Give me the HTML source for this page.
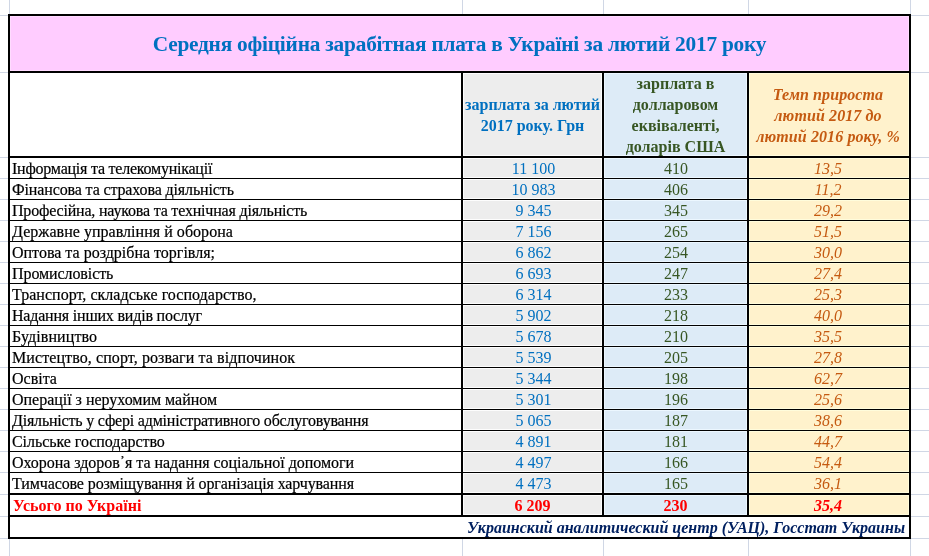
<!DOCTYPE html>
<html lang="uk"><head><meta charset="utf-8"><title>Середня офіційна заробітна плата</title>
<style>
html,body{margin:0;padding:0;background:#fff;}
body{width:929px;height:556px;position:relative;overflow:hidden;font-family:"Liberation Serif","Times New Roman",serif;font-size:16px;color:#000;}
.a{position:absolute;}
.g{position:absolute;background:#d0d7e5;}
.k{position:absolute;background:#000;}
.c{position:absolute;display:flex;align-items:center;justify-content:center;text-align:center;white-space:nowrap;}
.l{justify-content:flex-start;text-align:left;}
.r{justify-content:flex-end;text-align:right;}
.s{-webkit-text-stroke:0.2px currentColor;}
.t{position:absolute;white-space:nowrap;line-height:20px;height:20px;}
</style></head><body>

<div class="g" style="left:0;top:15px;width:929px;height:1px"></div>
<div class="g" style="left:0;top:72px;width:929px;height:1px"></div>
<div class="g" style="left:0;top:157px;width:929px;height:1px"></div>
<div class="g" style="left:0;top:178px;width:929px;height:1px"></div>
<div class="g" style="left:0;top:199px;width:929px;height:1px"></div>
<div class="g" style="left:0;top:220px;width:929px;height:1px"></div>
<div class="g" style="left:0;top:241px;width:929px;height:1px"></div>
<div class="g" style="left:0;top:262px;width:929px;height:1px"></div>
<div class="g" style="left:0;top:283px;width:929px;height:1px"></div>
<div class="g" style="left:0;top:304px;width:929px;height:1px"></div>
<div class="g" style="left:0;top:325px;width:929px;height:1px"></div>
<div class="g" style="left:0;top:346px;width:929px;height:1px"></div>
<div class="g" style="left:0;top:367px;width:929px;height:1px"></div>
<div class="g" style="left:0;top:388px;width:929px;height:1px"></div>
<div class="g" style="left:0;top:409px;width:929px;height:1px"></div>
<div class="g" style="left:0;top:430px;width:929px;height:1px"></div>
<div class="g" style="left:0;top:451px;width:929px;height:1px"></div>
<div class="g" style="left:0;top:472px;width:929px;height:1px"></div>
<div class="g" style="left:0;top:494px;width:929px;height:1px"></div>
<div class="g" style="left:0;top:516px;width:929px;height:1px"></div>
<div class="g" style="left:0;top:538px;width:929px;height:1px"></div>
<div class="g" style="left:9px;top:0;width:1px;height:556px"></div>
<div class="g" style="left:462px;top:0;width:1px;height:556px"></div>
<div class="g" style="left:603px;top:0;width:1px;height:556px"></div>
<div class="g" style="left:748px;top:0;width:1px;height:556px"></div>
<div class="g" style="left:910px;top:0;width:1px;height:556px"></div>
<div class="a" style="left:10px;top:16px;width:899px;height:55px;background:#ffccff"></div>
<div class="a" style="left:10px;top:73px;width:451px;height:464px;background:#fff"></div>
<div class="a" style="left:463px;top:73px;width:139px;height:442px;background:#ededed"></div>
<div class="a" style="left:604px;top:73px;width:143px;height:442px;background:#ddebf7"></div>
<div class="a" style="left:749px;top:73px;width:160px;height:442px;background:#fff2cc"></div>
<div class="a" style="left:10px;top:517px;width:899px;height:20px;background:#fff"></div>
<div class="a" style="left:10px;top:16px;width:899px;height:55px;box-sizing:border-box;border:1px solid #ffdcff"></div>
<div class="a" style="left:463px;top:73px;width:139px;height:442px;box-sizing:border-box;border:1px solid #fdfdfd"></div>
<div class="a" style="left:463px;top:155px;width:139px;height:4px;background:#fdfdfd"></div>
<div class="a" style="left:463px;top:177px;width:139px;height:3px;background:#fdfdfd"></div>
<div class="a" style="left:463px;top:198px;width:139px;height:3px;background:#fdfdfd"></div>
<div class="a" style="left:463px;top:219px;width:139px;height:3px;background:#fdfdfd"></div>
<div class="a" style="left:463px;top:240px;width:139px;height:3px;background:#fdfdfd"></div>
<div class="a" style="left:463px;top:261px;width:139px;height:3px;background:#fdfdfd"></div>
<div class="a" style="left:463px;top:282px;width:139px;height:3px;background:#fdfdfd"></div>
<div class="a" style="left:463px;top:303px;width:139px;height:3px;background:#fdfdfd"></div>
<div class="a" style="left:463px;top:324px;width:139px;height:3px;background:#fdfdfd"></div>
<div class="a" style="left:463px;top:345px;width:139px;height:3px;background:#fdfdfd"></div>
<div class="a" style="left:463px;top:366px;width:139px;height:3px;background:#fdfdfd"></div>
<div class="a" style="left:463px;top:387px;width:139px;height:3px;background:#fdfdfd"></div>
<div class="a" style="left:463px;top:408px;width:139px;height:3px;background:#fdfdfd"></div>
<div class="a" style="left:463px;top:429px;width:139px;height:3px;background:#fdfdfd"></div>
<div class="a" style="left:463px;top:450px;width:139px;height:3px;background:#fdfdfd"></div>
<div class="a" style="left:463px;top:471px;width:139px;height:3px;background:#fdfdfd"></div>
<div class="a" style="left:463px;top:492px;width:139px;height:4px;background:#fdfdfd"></div>
<div class="a" style="left:604px;top:73px;width:143px;height:442px;box-sizing:border-box;border:1px solid #ecf7ff"></div>
<div class="a" style="left:604px;top:155px;width:143px;height:4px;background:#ecf7ff"></div>
<div class="a" style="left:604px;top:177px;width:143px;height:3px;background:#ecf7ff"></div>
<div class="a" style="left:604px;top:198px;width:143px;height:3px;background:#ecf7ff"></div>
<div class="a" style="left:604px;top:219px;width:143px;height:3px;background:#ecf7ff"></div>
<div class="a" style="left:604px;top:240px;width:143px;height:3px;background:#ecf7ff"></div>
<div class="a" style="left:604px;top:261px;width:143px;height:3px;background:#ecf7ff"></div>
<div class="a" style="left:604px;top:282px;width:143px;height:3px;background:#ecf7ff"></div>
<div class="a" style="left:604px;top:303px;width:143px;height:3px;background:#ecf7ff"></div>
<div class="a" style="left:604px;top:324px;width:143px;height:3px;background:#ecf7ff"></div>
<div class="a" style="left:604px;top:345px;width:143px;height:3px;background:#ecf7ff"></div>
<div class="a" style="left:604px;top:366px;width:143px;height:3px;background:#ecf7ff"></div>
<div class="a" style="left:604px;top:387px;width:143px;height:3px;background:#ecf7ff"></div>
<div class="a" style="left:604px;top:408px;width:143px;height:3px;background:#ecf7ff"></div>
<div class="a" style="left:604px;top:429px;width:143px;height:3px;background:#ecf7ff"></div>
<div class="a" style="left:604px;top:450px;width:143px;height:3px;background:#ecf7ff"></div>
<div class="a" style="left:604px;top:471px;width:143px;height:3px;background:#ecf7ff"></div>
<div class="a" style="left:604px;top:492px;width:143px;height:4px;background:#ecf7ff"></div>
<div class="a" style="left:749px;top:73px;width:160px;height:442px;box-sizing:border-box;border:1px solid #fffcdc"></div>
<div class="a" style="left:749px;top:155px;width:160px;height:4px;background:#fffcdc"></div>
<div class="a" style="left:749px;top:177px;width:160px;height:3px;background:#fffcdc"></div>
<div class="a" style="left:749px;top:198px;width:160px;height:3px;background:#fffcdc"></div>
<div class="a" style="left:749px;top:219px;width:160px;height:3px;background:#fffcdc"></div>
<div class="a" style="left:749px;top:240px;width:160px;height:3px;background:#fffcdc"></div>
<div class="a" style="left:749px;top:261px;width:160px;height:3px;background:#fffcdc"></div>
<div class="a" style="left:749px;top:282px;width:160px;height:3px;background:#fffcdc"></div>
<div class="a" style="left:749px;top:303px;width:160px;height:3px;background:#fffcdc"></div>
<div class="a" style="left:749px;top:324px;width:160px;height:3px;background:#fffcdc"></div>
<div class="a" style="left:749px;top:345px;width:160px;height:3px;background:#fffcdc"></div>
<div class="a" style="left:749px;top:366px;width:160px;height:3px;background:#fffcdc"></div>
<div class="a" style="left:749px;top:387px;width:160px;height:3px;background:#fffcdc"></div>
<div class="a" style="left:749px;top:408px;width:160px;height:3px;background:#fffcdc"></div>
<div class="a" style="left:749px;top:429px;width:160px;height:3px;background:#fffcdc"></div>
<div class="a" style="left:749px;top:450px;width:160px;height:3px;background:#fffcdc"></div>
<div class="a" style="left:749px;top:471px;width:160px;height:3px;background:#fffcdc"></div>
<div class="a" style="left:749px;top:492px;width:160px;height:4px;background:#fffcdc"></div>
<div class="k" style="left:8px;top:14px;width:903px;height:2px"></div>
<div class="k" style="left:8px;top:71px;width:903px;height:2px"></div>
<div class="k" style="left:8px;top:156px;width:903px;height:2px"></div>
<div class="k" style="left:8px;top:493px;width:903px;height:2px"></div>
<div class="k" style="left:8px;top:515px;width:903px;height:2px"></div>
<div class="k" style="left:8px;top:537px;width:903px;height:2px"></div>
<div class="k" style="left:8px;top:14px;width:2px;height:525px"></div>
<div class="k" style="left:909px;top:14px;width:2px;height:525px"></div>
<div class="k" style="left:461px;top:72px;width:2px;height:444px"></div>
<div class="k" style="left:602px;top:72px;width:2px;height:444px"></div>
<div class="k" style="left:747px;top:72px;width:2px;height:444px"></div>
<div class="k" style="left:10px;top:178px;width:899px;height:1px"></div>
<div class="k" style="left:10px;top:199px;width:899px;height:1px"></div>
<div class="k" style="left:10px;top:220px;width:899px;height:1px"></div>
<div class="k" style="left:10px;top:241px;width:899px;height:1px"></div>
<div class="k" style="left:10px;top:262px;width:899px;height:1px"></div>
<div class="k" style="left:10px;top:283px;width:899px;height:1px"></div>
<div class="k" style="left:10px;top:304px;width:899px;height:1px"></div>
<div class="k" style="left:10px;top:325px;width:899px;height:1px"></div>
<div class="k" style="left:10px;top:346px;width:899px;height:1px"></div>
<div class="k" style="left:10px;top:367px;width:899px;height:1px"></div>
<div class="k" style="left:10px;top:388px;width:899px;height:1px"></div>
<div class="k" style="left:10px;top:409px;width:899px;height:1px"></div>
<div class="k" style="left:10px;top:430px;width:899px;height:1px"></div>
<div class="k" style="left:10px;top:451px;width:899px;height:1px"></div>
<div class="k" style="left:10px;top:472px;width:899px;height:1px"></div>
<div class="c" style="left:10px;top:17px;width:899px;height:55px;font-weight:bold;font-size:21.33px;letter-spacing:-0.22px;color:#0070c0" id="title">Середня офіційна зарабітная плата в Україні за лютий 2017 року</div>
<div class="c" style="left:463px;top:73px;width:139px;height:83px;font-weight:bold;color:#0070c0;line-height:21px" id="h2">зарплата за лютий<br>2017 року. Грн</div>
<div class="c" style="left:604px;top:73px;width:143px;height:83px;font-weight:bold;color:#375623;line-height:21px" id="h3">зарплата в<br>долларовом<br>еквіваленті,<br>доларів США</div>
<div class="c" style="left:748px;top:74px;width:160px;height:83px;font-weight:bold;font-style:italic;color:#c55a11;line-height:21px;letter-spacing:0.1px" id="h4">Темп прироста<br>лютий 2017 до<br>лютий 2016 року, %</div>
<div class="c l s" style="left:12px;top:159px;width:449px;height:20px;letter-spacing:-0.232px" id="n0">Інформація та телекомунікації</div>
<div class="c" style="left:464px;top:159px;width:139px;height:20px;color:#0070c0">11 100</div>
<div class="c" style="left:604.5px;top:159px;width:143px;height:20px;color:#375623">410</div>
<div class="c" style="left:748px;top:159px;width:160px;height:20px;color:#c55a11;font-style:italic">13,5</div>
<div class="c l s" style="left:12px;top:180px;width:449px;height:20px;letter-spacing:-0.129px" id="n1">Фінансова та страхова діяльність</div>
<div class="c" style="left:464px;top:180px;width:139px;height:20px;color:#0070c0">10 983</div>
<div class="c" style="left:604.5px;top:180px;width:143px;height:20px;color:#375623">406</div>
<div class="c" style="left:748px;top:180px;width:160px;height:20px;color:#c55a11;font-style:italic">11,2</div>
<div class="c l s" style="left:12px;top:201px;width:449px;height:20px;letter-spacing:-0.190px" id="n2">Професійна, наукова та технічная діяльність</div>
<div class="c" style="left:464px;top:201px;width:139px;height:20px;color:#0070c0">9 345</div>
<div class="c" style="left:604.5px;top:201px;width:143px;height:20px;color:#375623">345</div>
<div class="c" style="left:748px;top:201px;width:160px;height:20px;color:#c55a11;font-style:italic">29,2</div>
<div class="c l s" style="left:12px;top:222px;width:449px;height:20px;letter-spacing:0.036px" id="n3">Державне управління й оборона</div>
<div class="c" style="left:464px;top:222px;width:139px;height:20px;color:#0070c0">7 156</div>
<div class="c" style="left:604.5px;top:222px;width:143px;height:20px;color:#375623">265</div>
<div class="c" style="left:748px;top:222px;width:160px;height:20px;color:#c55a11;font-style:italic">51,5</div>
<div class="c l s" style="left:12px;top:243px;width:449px;height:20px;letter-spacing:0.000px" id="n4">Оптова та роздрібна торгівля;</div>
<div class="c" style="left:464px;top:243px;width:139px;height:20px;color:#0070c0">6 862</div>
<div class="c" style="left:604.5px;top:243px;width:143px;height:20px;color:#375623">254</div>
<div class="c" style="left:748px;top:243px;width:160px;height:20px;color:#c55a11;font-style:italic">30,0</div>
<div class="c l s" style="left:12px;top:264px;width:449px;height:20px;letter-spacing:-0.083px" id="n5">Промисловість</div>
<div class="c" style="left:464px;top:264px;width:139px;height:20px;color:#0070c0">6 693</div>
<div class="c" style="left:604.5px;top:264px;width:143px;height:20px;color:#375623">247</div>
<div class="c" style="left:748px;top:264px;width:160px;height:20px;color:#c55a11;font-style:italic">27,4</div>
<div class="c l s" style="left:12px;top:285px;width:449px;height:20px;letter-spacing:0.030px" id="n6">Транспорт, складське господарство,</div>
<div class="c" style="left:464px;top:285px;width:139px;height:20px;color:#0070c0">6 314</div>
<div class="c" style="left:604.5px;top:285px;width:143px;height:20px;color:#375623">233</div>
<div class="c" style="left:748px;top:285px;width:160px;height:20px;color:#c55a11;font-style:italic">25,3</div>
<div class="c l s" style="left:12px;top:306px;width:449px;height:20px;letter-spacing:-0.200px" id="n7">Надання інших видів послуг</div>
<div class="c" style="left:464px;top:306px;width:139px;height:20px;color:#0070c0">5 902</div>
<div class="c" style="left:604.5px;top:306px;width:143px;height:20px;color:#375623">218</div>
<div class="c" style="left:748px;top:306px;width:160px;height:20px;color:#c55a11;font-style:italic">40,0</div>
<div class="c l s" style="left:12px;top:327px;width:449px;height:20px;letter-spacing:0.100px" id="n8">Будівництво</div>
<div class="c" style="left:464px;top:327px;width:139px;height:20px;color:#0070c0">5 678</div>
<div class="c" style="left:604.5px;top:327px;width:143px;height:20px;color:#375623">210</div>
<div class="c" style="left:748px;top:327px;width:160px;height:20px;color:#c55a11;font-style:italic">35,5</div>
<div class="c l s" style="left:12px;top:348px;width:449px;height:20px;letter-spacing:0.092px" id="n9">Мистецтво, спорт, розваги та відпочинок</div>
<div class="c" style="left:464px;top:348px;width:139px;height:20px;color:#0070c0">5 539</div>
<div class="c" style="left:604.5px;top:348px;width:143px;height:20px;color:#375623">205</div>
<div class="c" style="left:748px;top:348px;width:160px;height:20px;color:#c55a11;font-style:italic">27,8</div>
<div class="c l s" style="left:12px;top:369px;width:449px;height:20px;letter-spacing:0.000px" id="n10">Освіта</div>
<div class="c" style="left:464px;top:369px;width:139px;height:20px;color:#0070c0">5 344</div>
<div class="c" style="left:604.5px;top:369px;width:143px;height:20px;color:#375623">198</div>
<div class="c" style="left:748px;top:369px;width:160px;height:20px;color:#c55a11;font-style:italic">62,7</div>
<div class="c l s" style="left:12px;top:390px;width:449px;height:20px;letter-spacing:-0.019px" id="n11">Операції з нерухомим майном</div>
<div class="c" style="left:464px;top:390px;width:139px;height:20px;color:#0070c0">5 301</div>
<div class="c" style="left:604.5px;top:390px;width:143px;height:20px;color:#375623">196</div>
<div class="c" style="left:748px;top:390px;width:160px;height:20px;color:#c55a11;font-style:italic">25,6</div>
<div class="c l s" style="left:12px;top:411px;width:449px;height:20px;letter-spacing:-0.200px" id="n12">Діяльність у сфері адміністративного обслуговування</div>
<div class="c" style="left:464px;top:411px;width:139px;height:20px;color:#0070c0">5 065</div>
<div class="c" style="left:604.5px;top:411px;width:143px;height:20px;color:#375623">187</div>
<div class="c" style="left:748px;top:411px;width:160px;height:20px;color:#c55a11;font-style:italic">38,6</div>
<div class="c l s" style="left:12px;top:432px;width:449px;height:20px;letter-spacing:-0.050px" id="n13">Сільське господарство</div>
<div class="c" style="left:464px;top:432px;width:139px;height:20px;color:#0070c0">4 891</div>
<div class="c" style="left:604.5px;top:432px;width:143px;height:20px;color:#375623">181</div>
<div class="c" style="left:748px;top:432px;width:160px;height:20px;color:#c55a11;font-style:italic">44,7</div>
<div class="c l s" style="left:12px;top:453px;width:449px;height:20px;letter-spacing:-0.043px" id="n14">Охорона здоров᾿я та надання соціальної допомоги</div>
<div class="c" style="left:464px;top:453px;width:139px;height:20px;color:#0070c0">4 497</div>
<div class="c" style="left:604.5px;top:453px;width:143px;height:20px;color:#375623">166</div>
<div class="c" style="left:748px;top:453px;width:160px;height:20px;color:#c55a11;font-style:italic">54,4</div>
<div class="c l s" style="left:12px;top:474px;width:449px;height:20px;letter-spacing:-0.113px" id="n15">Тимчасове розміщування й організація харчування</div>
<div class="c" style="left:464px;top:474px;width:139px;height:20px;color:#0070c0">4 473</div>
<div class="c" style="left:604.5px;top:474px;width:143px;height:20px;color:#375623">165</div>
<div class="c" style="left:748px;top:474px;width:160px;height:20px;color:#c55a11;font-style:italic">36,1</div>
<div class="c l" style="left:13px;top:496px;width:449px;height:20px;color:#ff0000;font-weight:bold" id="tot">Усього по Україні</div>
<div class="c" style="left:463px;top:496px;width:139px;height:20px;color:#ff0000;font-weight:bold">6 209</div>
<div class="c" style="left:604px;top:496px;width:143px;height:20px;color:#ff0000;font-weight:bold">230</div>
<div class="c" style="left:748px;top:496px;width:160px;height:20px;color:#ff0000;font-weight:bold;font-style:italic">35,4</div>
<div class="c r" style="left:10px;top:518px;width:895px;height:20px;color:#002060;font-weight:bold;font-style:italic" id="foot">Украинский аналитический центр (УАЦ), Госстат Украины</div>
</body></html>
